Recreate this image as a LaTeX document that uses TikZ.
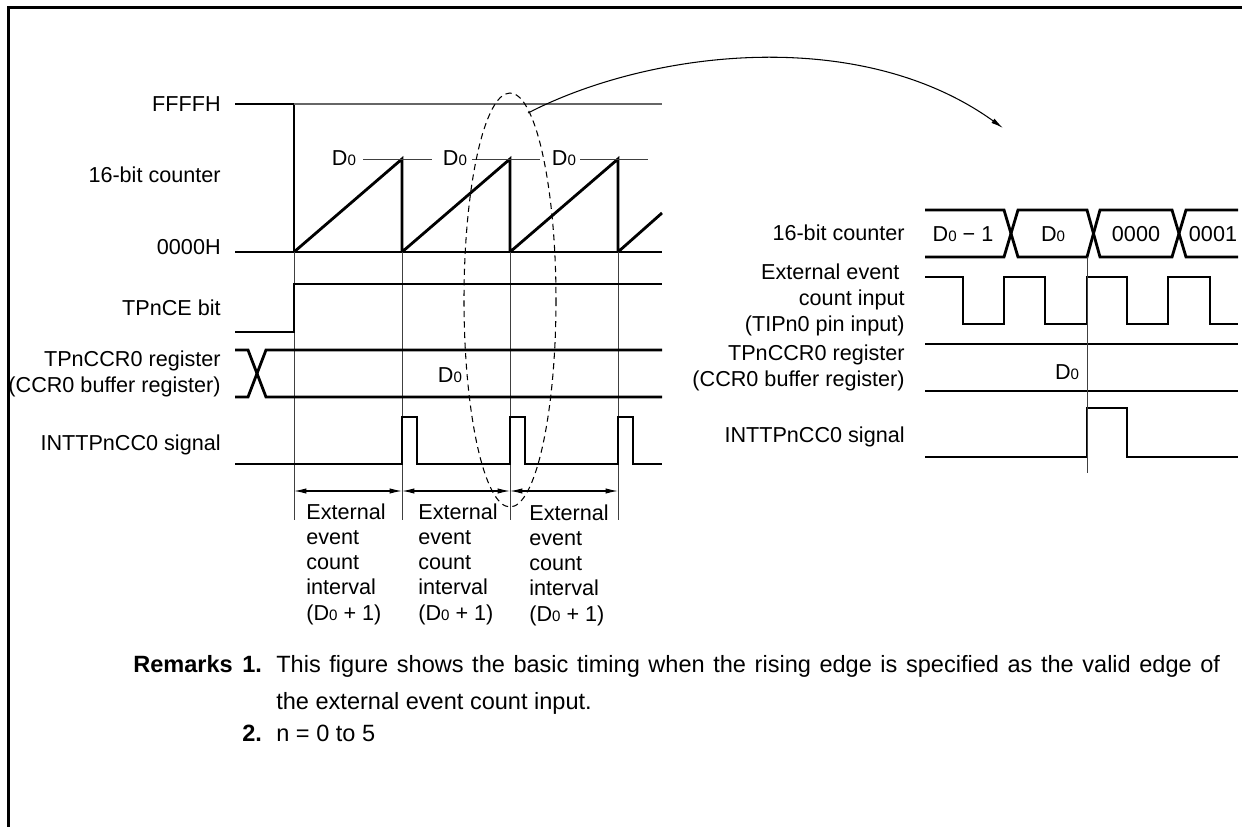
\documentclass[tikz,border=0pt]{standalone}
\usepackage{fontspec}
\setmainfont{Liberation Sans}
\usetikzlibrary{arrows.meta}

% D with a small zero
\newcommand{\Dzero}{D{\fontsize{8.6}{9}\selectfont 0}}

\begin{document}
\begin{tikzpicture}[x=0.02cm, y=-0.02cm,
    sig/.style={line width=1.6pt},
    guide/.style={line width=0.5pt, black!75},
    lbl/.style={anchor=east, inner sep=0pt, align=right, font=\fontsize{12.3}{14.6}\selectfont},
    txt/.style={inner sep=0pt, font=\fontsize{12.3}{14.6}\selectfont},
    interval/.style={anchor=north west, inner sep=0pt, align=left, font=\fontsize{12.3}{14.4}\selectfont},
    remark/.style={anchor=mid west, inner sep=0pt, font=\fontsize{13.4}{16}\selectfont}]
    \useasboundingbox (0,0) rectangle (1242,827);

    % Frame (left and top edges only)
    \draw[line width=1.9pt] (8.5,827) -- (8.5,7.5) -- (1242,7.5);

    % Left timing chart: labels
    \node[lbl] (lffff) at (221,104) {FFFFH};
    \node[lbl] (lcnt) at (221,175) {16-bit counter};
    \node[lbl] (lzero) at (221,247) {0000H};
    \node[lbl] (lce) at (221,308) {TPnCE bit};
    \node[lbl] (lccr) at (221,374) {TPnCCR0 register\\(CCR0 buffer register)};
    \node[lbl] (lint) at (221,445) {INTTPnCC0 signal};

    % Counter
    \draw[sig] (235,104) -- (294,104) -- (294,252);
    \draw[line width=0.7pt, black!60] (294,104) -- (662,104);
    \draw[sig] (235,252) -- (662,252);
    \draw[sig] (294,252) -- (402,159) -- (402,252)
               (402,252) -- (510,159) -- (510,252)
               (510,252) -- (618,159) -- (618,252)
               (618,252) -- (662,213);
    \draw[guide] (363,159) -- (432,159) (472,159) -- (540,159) (580,159) -- (648,159);
    \node[txt] (dzA) at (344,158) {\Dzero};
    \node[txt] (dzB) at (455,158) {\Dzero};
    \node[txt] (dzC) at (564,158) {\Dzero};

    % Vertical guides
    \foreach \gx in {294,402,510,618}
        \draw[guide] (\gx,252) -- (\gx,520);

    % TPnCE bit
    \draw[sig] (235,332) -- (294,332) -- (294,284) -- (662,284);

    % TPnCCR0 register
    \draw[sig] (235,350) -- (248,350) -- (266,397) -- (662,397);
    \draw[sig] (235,397) -- (248,397) -- (266,350) -- (662,350);
    \node[txt] (dzreg) at (450,375) {\Dzero};

    % INTTPnCC0 signal
    \draw[sig] (235,464) -- (402,464) -- (402,417) -- (417,417) -- (417,464)
               -- (510,464) -- (510,417) -- (525,417) -- (525,464)
               -- (618,464) -- (618,417) -- (633,417) -- (633,464) -- (662,464);

    % Count intervals
    \foreach \ia/\ib in {294/402,402/510,510/618}
        \draw[line width=0.6pt, {Latex[length=7pt,width=3pt]}-{Latex[length=7pt,width=3pt]}] (\ia,491) -- (\ib,491);
    \node[interval] (ivA) at (306,503) {External\\event\\count\\interval\\(\Dzero{} + 1)};
    \node[interval] (ivB) at (418,503) {External\\event\\count\\interval\\(\Dzero{} + 1)};
    \node[interval] (ivC) at (529,504) {External\\event\\count\\interval\\(\Dzero{} + 1)};

    % Dashed ellipse and zoom arrow
    \draw[line width=0.6pt, dash pattern=on 3.5pt off 2.5pt] (510,300) ellipse [x radius=46, y radius=207];
    \coordinate (zoomfrom) at (528,113);
    \coordinate (zoomto) at (1003,128);
    \draw[line width=0.6pt, -{Latex[length=7pt,width=3pt]}] (zoomfrom) .. controls (650,50) and (860,25) .. (zoomto);

    % Right timing chart: labels
    \node[lbl] (rcnt) at (905,233) {16-bit counter};
    \node[lbl] (rext) at (905,300) {External event\kern3pt\\count input\\(TIPn0 pin input)};
    \node[lbl] (rccr) at (905,368) {TPnCCR0 register\\(CCR0 buffer register)};
    \node[lbl] (rint) at (905,437) {INTTPnCC0 signal};

    % Counter bus
    \draw[sig] (925,210) -- (1004,210) -- (1018,257) -- (1087,257) -- (1100,210)
               -- (1172,210) -- (1186,257) -- (1238,257);
    \draw[sig] (925,257) -- (1004,257) -- (1018,210) -- (1087,210) -- (1100,257)
               -- (1172,257) -- (1186,210) -- (1238,210);
    \node[txt] (bdm) at (963,234) {\Dzero{} − 1};
    \node[txt] (bd) at (1053,234) {\Dzero};
    \node[txt] (bz) at (1136,234) {0000};
    \node[txt] (bo) at (1213,234) {0001};

    % External event input
    \draw[sig] (925,277) -- (963,277) -- (963,324) -- (1004,324) -- (1004,277)
               -- (1045,277) -- (1045,324) -- (1087,324) -- (1087,277)
               -- (1127,277) -- (1127,324) -- (1168,324) -- (1168,277)
               -- (1210,277) -- (1210,324) -- (1238,324);

    % TPnCCR0 register
    \draw[sig] (925,344) -- (1238,344) (925,391) -- (1238,391);
    \node[txt] (rdz) at (1067,372) {\Dzero};

    % INTTPnCC0 signal
    \draw[sig] (925,457) -- (1087,457) -- (1087,408) -- (1127,408) -- (1127,457) -- (1238,457);
    \draw[guide] (1087,257) -- (1087,473);

    % Remarks
    \node[remark, font=\fontsize{13.4}{16}\selectfont\bfseries] (remhead) at (133,668) {Remarks};
    \node[remark, font=\fontsize{13.4}{16}\selectfont\bfseries] (remnA) at (242,668) {1.};
    \node[remark] (remA) at (276,668) {\makebox[18.88cm][s]{This figure shows the basic timing when the rising edge is specified as the valid edge of}};
    \node[remark] (remAb) at (276,705) {the external event count input.};
    \node[remark, font=\fontsize{13.4}{16}\selectfont\bfseries] (remnB) at (242,737) {2.};
    \node[remark] (remB) at (276,737) {n = 0 to 5};
\end{tikzpicture}
\end{document}
